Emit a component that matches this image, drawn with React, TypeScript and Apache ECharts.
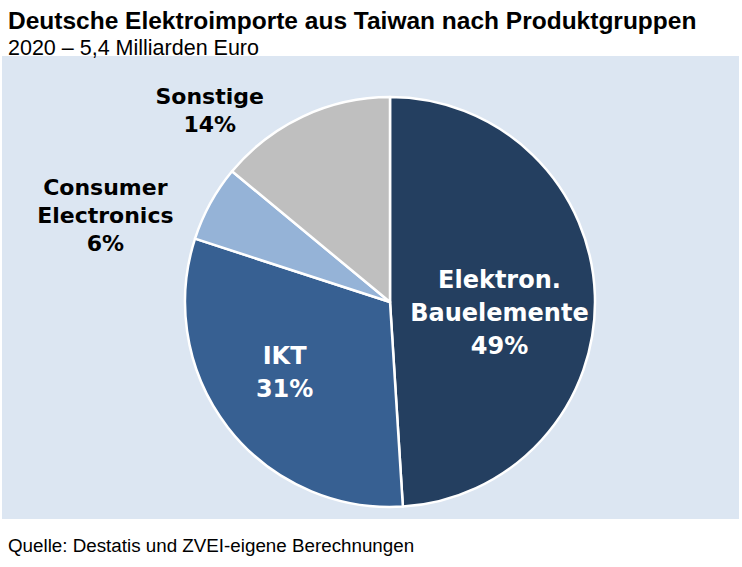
import * as echarts from 'echarts';
import React, { useEffect, useRef } from 'react';

const categories = ['Elektron.\nBauelemente', 'IKT', 'Consumer\nElectronics', 'Sonstige'];
const shares = [49, 31, 6, 14];
const colors = ['#243F60', '#376092', '#95B3D7', '#BFBFBF'];
const insideLabel = [true, true, false, false];
// label nudges (dx, dy) relative to the default label anchor
const labelShift = [
  [4, 14],
  [-22, 6],
  [-100, 12],
  [-88, -6],
];

const App: React.FC = () => {
  const chartRef = useRef<HTMLDivElement>(null);

  useEffect(() => {
    document.body.style.margin = '0';
    const myChart = echarts.init(chartRef.current!, null, { renderer: 'svg' });

    const option = {
      animation: false,
      textStyle: { fontFamily: 'Liberation Sans, Arial, sans-serif' },
      title: [
        {
          text: 'Deutsche Elektroimporte aus Taiwan nach Produktgruppen',
          left: 3,
          top: 3,
          textStyle: { fontSize: 24.5, fontWeight: 'bold', color: '#000' },
        },
        {
          text: '2020 – 5,4 Milliarden Euro',
          left: 3,
          top: 32,
          textStyle: { fontSize: 21.5, fontWeight: 'normal', color: '#000' },
        },
        {
          text: 'Quelle: Destatis und ZVEI-eigene Berechnungen',
          left: 3,
          top: 531,
          textStyle: { fontSize: 18.8, fontWeight: 'normal', color: '#000' },
        },
      ],
      graphic: [
        {
          type: 'rect',
          z: -10,
          shape: { x: 2, y: 56, width: 737, height: 463 },
          style: { fill: '#DCE6F2' },
        },
      ],
      series: [
        {
          type: 'pie',
          center: [390, 302],
          radius: 205,
          startAngle: 90,
          clockwise: true,
          itemStyle: { borderColor: '#fff', borderWidth: 2.5 },
          labelLine: { show: false, length: 0, length2: 0 },
          labelLayout: (params: any) => {
            const s = labelShift[params.dataIndex];
            return { align: 'center', dx: s[0], dy: s[1] };
          },
          data: categories.map((name, i) => ({
            name,
            value: shares[i],
            itemStyle: { color: colors[i] },
            label: insideLabel[i]
              ? {
                  position: 'inside',
                  formatter: '{b}\n{c}%',
                  color: '#fff',
                  fontFamily: 'DejaVu Sans',
                  fontSize: 24,
                  fontWeight: 'bold',
                  lineHeight: 33,
                }
              : {
                  position: 'outside',
                  formatter: '{b}\n{c}%',
                  color: '#000',
                  fontFamily: 'DejaVu Sans',
                  fontSize: 22,
                  fontWeight: 'bold',
                  lineHeight: 28,
                },
          })),
        },
      ],
    };

    myChart.setOption(option);

    return () => {
      myChart.dispose();
    };
  }, []);

  return <div ref={chartRef} style={{ width: '742px', height: '567px' }} />;
};

export default App;
